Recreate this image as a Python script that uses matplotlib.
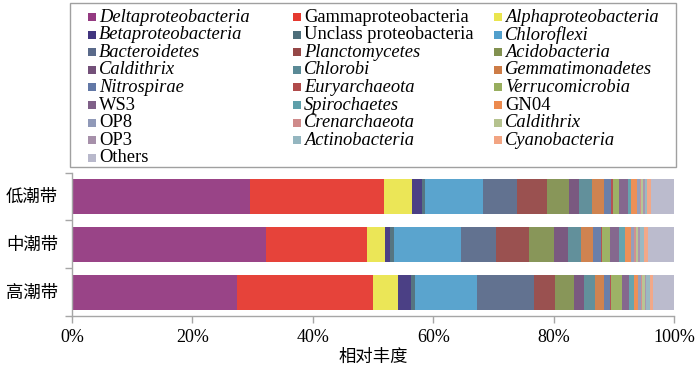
import matplotlib
matplotlib.use("Agg")
import matplotlib.pyplot as plt
from matplotlib.patches import Rectangle
import numpy as np

plt.rcParams['font.family'] = ['Liberation Serif', 'Noto Sans CJK SC']

zones = ['高潮带', '中潮带', '低潮带']

taxa = ['Deltaproteobacteria', 'Gammaproteobacteria', 'Alphaproteobacteria',
        'Betaproteobacteria', 'Unclass proteobacteria', 'Chloroflexi',
        'Bacteroidetes', 'Planctomycetes', 'Acidobacteria',
        'Caldithrix', 'Chlorobi', 'Gemmatimonadetes',
        'Nitrospirae', 'Euryarchaeota', 'Verrucomicrobia',
        'WS3', 'Spirochaetes', 'GN04',
        'OP8', 'Crenarchaeota', 'Caldithrix',
        'OP3', 'Actinobacteria', 'Cyanobacteria',
        'Others']

italic = [True, False, True,
          True, False, True,
          True, True, True,
          True, True, True,
          True, True, True,
          False, True, False,
          False, True, True,
          False, True, True,
          False]

colors = ['#943A81', '#E5392F', '#EAE54E',
          '#41357F', '#4D6E7A', '#519FCC',
          '#5A6A8A', '#954746', '#829150',
          '#735079', '#5A8A96', '#CD7C46',
          '#6278A6', '#B04B4B', '#98AE5E',
          '#7F6088', '#5E9FAA', '#EC8A4E',
          '#9099B8', '#CF8A8A', '#B5C28E',
          '#A690AA', '#94B6C0', '#F2A482',
          '#B8B8CB']

# values per zone (%), order as taxa
high_zone = [27.4, 22.6, 4.2, 2.1, 0.7, 10.3, 9.4, 3.6, 3.1, 1.6, 1.8, 1.5,
             1.1, 0.1, 1.9, 1.1, 0.9, 0.7, 0.4, 0.2, 0.4, 0.2, 0.7, 0.5, 3.5]
mid_zone = [32.2, 16.8, 3.0, 0.9, 0.6, 11.1, 5.8, 5.5, 4.2, 2.3, 2.1, 2.1,
            1.3, 0.1, 1.3, 1.6, 1.0, 1.0, 0.5, 0.3, 0.3, 0.4, 0.6, 0.6, 4.4]
low_zone = [29.6, 22.3, 4.5, 1.7, 0.6, 9.5, 5.8, 4.9, 3.7, 1.7, 2.0, 2.0,
            1.3, 0.2, 1.1, 1.4, 0.6, 0.9, 0.5, 0.2, 0.4, 0.2, 0.4, 0.7, 3.8]

data = np.array([high_zone, mid_zone, low_zone])

fig = plt.figure(figsize=(7.0, 3.7), dpi=100)
ax = fig.add_axes([72/700, (370-316)/370, (674-72)/700, (316-172.5)/370])

y = np.arange(len(zones))
left = np.zeros(len(zones))
for j in range(len(taxa)):
    ax.barh(y, data[:, j], left=left, height=0.73, color=colors[j],
            edgecolor='none', alpha=0.95)
    left += data[:, j]

ax.set_xlim(0, 100)
ax.set_ylim(-0.5, 2.5)
ax.set_xticks(np.arange(0, 101, 20))
ax.set_xticklabels([f'{v}%' for v in range(0, 101, 20)], fontsize=13)
ax.set_yticks(y)
ax.set_yticklabels(zones, fontsize=12.5)
ax.set_yticks(np.arange(-0.5, 2.6, 1.0), minor=True)
ax.tick_params(axis='y', which='major', length=0, pad=10)
ax.tick_params(axis='y', which='minor', length=5, color='#A6A6A6', width=1)
ax.tick_params(axis='x', which='major', length=5, color='#A6A6A6', width=1, pad=4)
for s in ['top', 'right']:
    ax.spines[s].set_visible(False)
for s in ['left', 'bottom']:
    ax.spines[s].set_color('#A6A6A6')
    ax.spines[s].set_linewidth(1)
ax.set_xlabel('相对丰度', fontsize=12.5, labelpad=3)

# legend drawn manually in figure pixel coords
W, H = 700, 370
frame = Rectangle((70/W, (H-167)/H), (676-70)/W, (167-3)/H,
                  transform=fig.transFigure, fill=False,
                  edgecolor='#A0A0A0', linewidth=1)
fig.add_artist(frame)
col_x = [88, 293, 494]
row_y0 = 17
dy = 17.6
msz = 8
for i, name in enumerate(taxa):
    c, r = i % 3, i // 3
    yc = row_y0 + r * dy
    fig.add_artist(Rectangle((col_x[c]/W, (H - yc - msz/2)/H), msz/W, msz/H,
                             transform=fig.transFigure, facecolor=colors[i],
                             edgecolor='none'))
    fig.text((col_x[c] + msz + 3)/W, (H - yc)/H, name, fontsize=13.3,
             style='italic' if italic[i] else 'normal',
             va='center', ha='left')

fig.savefig('out.png', dpi=100)
